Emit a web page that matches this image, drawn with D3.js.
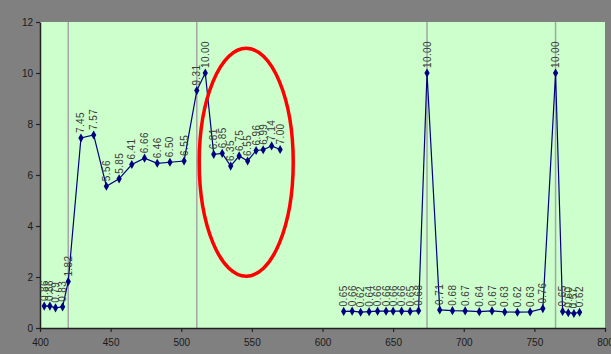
<!DOCTYPE html>
<html>
<head>
<meta charset="utf-8">
<script src="https://cdn.jsdelivr.net/npm/d3@7"></script>
<style>
  html, body { margin: 0; padding: 0; background: #808080; }
  svg { display: block; }
  text { font-family: "Liberation Sans", Arial, sans-serif; }
</style>
</head>
<body>
<svg id="chart" width="611" height="354"></svg>
<script>
// Measurement positions (x) and readings (y)
const xValues = [403, 407, 411, 416, 420,
  429, 438, 447, 456, 465, 474, 483, 492, 502,
  511, 517, 523, 529, 535, 541, 547, 553, 558, 564, 570,
  615, 621, 627, 633, 639, 645, 650, 656, 662, 668,
  674, 683, 692, 701, 711, 720, 729, 738, 747, 756,
  765, 770, 774, 778, 782];
const yValues = [0.86, 0.86, 0.79, 0.83, 1.82,
  7.45, 7.57, 5.56, 5.85, 6.41, 6.66, 6.46, 6.50, 6.55,
  9.31, 10.00, 6.81, 6.85, 6.35, 6.75, 6.55, 6.96, 6.99, 7.14, 7.00,
  0.65, 0.66, 0.62, 0.64, 0.66, 0.66, 0.66, 0.66, 0.65, 0.68,
  10.00, 0.71, 0.68, 0.67, 0.64, 0.67, 0.63, 0.62, 0.63, 0.76,
  10.00, 0.65, 0.60, 0.57, 0.62];
// Line breaks between separate runs (index where a new run starts)
const runStarts = [0, 25];
// Reference markers drawn as vertical rules
const markerLines = [420, 511, 674, 765];
const xTicks = [400, 450, 500, 550, 600, 650, 700, 750, 800];
const yTicks = [0, 2, 4, 6, 8, 10, 12];

const svg = d3.select("#chart");
const plotL = 40, plotR = 605, plotT = 22, plotB = 328;

const x = d3.scaleLinear().domain([400, 800]).range([plotL, plotR]);
const y = d3.scaleLinear().domain([0, 12]).range([plotB, plotT]);

// plot area
svg.append("rect")
  .attr("x", plotL).attr("y", plotT)
  .attr("width", plotR - plotL).attr("height", plotB - plotT)
  .attr("fill", "#ccffcc");

// vertical marker rules
svg.selectAll("line.marker").data(markerLines).enter().append("line")
  .attr("class", "marker")
  .attr("x1", d => x(d)).attr("x2", d => x(d))
  .attr("y1", plotT).attr("y2", plotB)
  .attr("stroke", "#a6a6a6").attr("stroke-width", 1.5);

// axes
const xAxis = svg.append("g")
  .attr("transform", `translate(0,${plotB})`)
  .call(d3.axisBottom(x).tickValues(xTicks).tickSize(4).tickSizeOuter(0).tickFormat(d3.format("d")));
const yAxis = svg.append("g")
  .attr("transform", `translate(${plotL},0)`)
  .call(d3.axisLeft(y).tickValues(yTicks).tickSize(4).tickSizeOuter(0).tickFormat(d3.format("d")));
[xAxis, yAxis].forEach(g => {
  g.select(".domain").attr("stroke", "#222").attr("stroke-width", 1.5);
  g.selectAll(".tick line").attr("stroke", "#222").attr("stroke-width", 1.2);
  g.selectAll(".tick text").attr("fill", "#1a1a1a").attr("font-size", 10)
    .attr("font-family", "Liberation Sans, Arial, sans-serif");
});
xAxis.selectAll(".tick text").attr("dy", "1.1em");
yAxis.selectAll(".tick text").attr("x", -7);

// data points
const pts = xValues.map((v, i) => ({ x: v, y: yValues[i], i }));
const runs = [];
runStarts.forEach((s, k) => {
  const e = k + 1 < runStarts.length ? runStarts[k + 1] : pts.length;
  runs.push(pts.slice(s, e));
});

const line = d3.line().x(d => x(d.x)).y(d => y(d.y));
svg.selectAll("path.series").data(runs).enter().append("path")
  .attr("class", "series")
  .attr("d", line)
  .attr("fill", "none")
  .attr("stroke", "#000080")
  .attr("stroke-width", 1.2);

const diamond = d3.symbol().type(d3.symbolDiamond).size(24);
svg.selectAll("path.pt").data(pts).enter().append("path")
  .attr("class", "pt")
  .attr("d", diamond)
  .attr("transform", d => `translate(${x(d.x)},${y(d.y)})`)
  .attr("fill", "#000080");

// value labels, rotated
svg.selectAll("text.val").data(pts).enter().append("text")
  .attr("class", "val")
  .attr("transform", d => `translate(${x(d.x)},${y(d.y) - 5}) rotate(-90)`)
  .attr("dy", "0.35em")
  .attr("text-anchor", "start")
  .attr("font-size", 10)
  .attr("letter-spacing", 0.4)
  .attr("fill", "#3a3a3a")
  .text(d => d3.format(".2f")(d.y));

// highlight ellipse
svg.append("ellipse")
  .attr("cx", x(546)).attr("cy", y(6.5))
  .attr("rx", 47).attr("ry", 114)
  .attr("fill", "none")
  .attr("stroke", "#ff0000")
  .attr("stroke-width", 3.5);
</script>
</body>
</html>
